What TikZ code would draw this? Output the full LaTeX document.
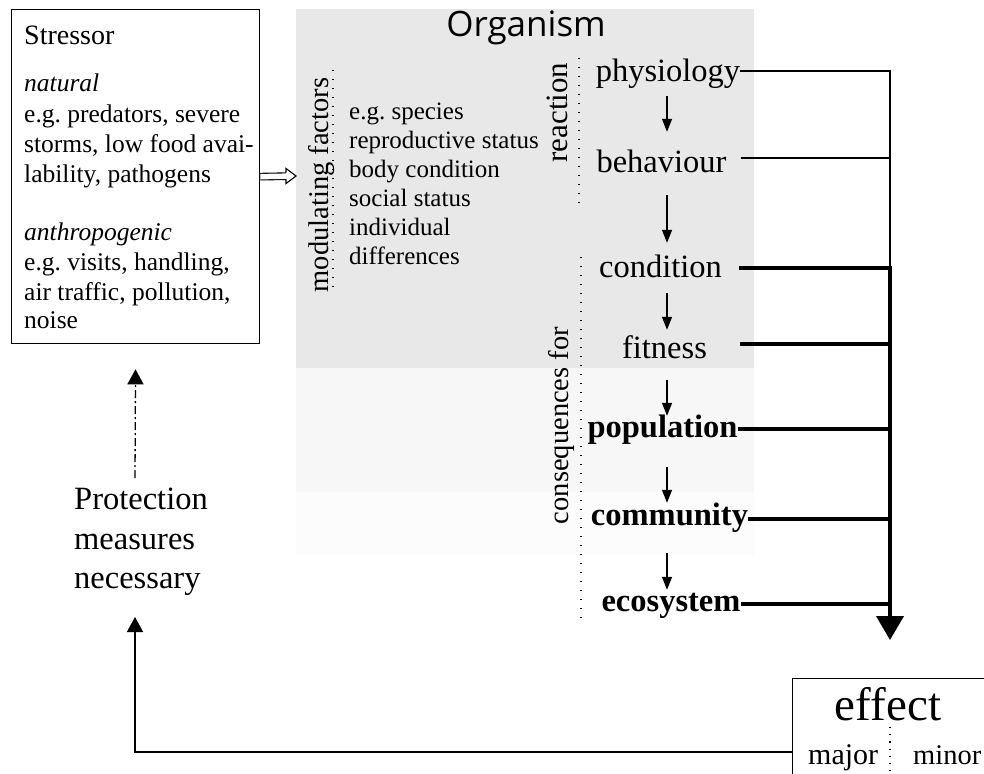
\documentclass[tikz,border=0pt]{standalone}
\usepackage{fontspec}
\setmainfont{Liberation Serif}
\newfontfamily\orgfont{Open Sans}
\usetikzlibrary{arrows.meta}
\definecolor{bandA}{HTML}{E8E8E8}
\definecolor{bandB}{HTML}{F7F7F7}
\definecolor{bandC}{HTML}{FCFCFC}
\frenchspacing
\begin{document}
\begin{tikzpicture}[x=1pt,y=-1pt,
  body/.style={inner sep=0pt, anchor=base west, font=\fontsize{25.5}{30}\selectfont},
  modtxt/.style={inner sep=0pt, anchor=base west, font=\fontsize{25}{29}\selectfont},
  coltxt/.style={inner sep=0pt, anchor=base, text height=23pt, text depth=7pt, font=\fontsize{32.5}{38}\selectfont},
  coltxtb/.style={coltxt, font=\fontsize{32.5}{38}\selectfont\bfseries},
  sidelabel/.style={inner sep=0pt, anchor=base, rotate=90},
  thinline/.style={line width=1.3pt},
  thickline/.style={line width=4pt},
  smallarr/.style={line width=1.3pt, -{Triangle[length=13pt,width=10pt]}},
  dotline/.style={line width=1.4pt, dash pattern=on 1.4pt off 7.6pt},
  boxline/.style={draw, line width=1.3pt, inner sep=0pt}
]
\useasboundingbox (0,0) rectangle (984,773);
\fill[white] (0,0) rectangle (984,773);

% organism background bands
\fill[bandA] (296,9) rectangle (754,368);
\fill[bandB] (296,368) rectangle (754,492);
\fill[bandC] (296,492) rectangle (754,555);

% stressor box
\node[boxline, anchor=north west, minimum width=248pt, minimum height=334pt] (stressor) at (11,9) {};
\node[inner sep=0pt, anchor=base west, font=\fontsize{28}{32}\selectfont] (st0) at (24,45) {Stressor};
\node[body] (st1) at (24,92) {\itshape natural};
\node[body] (st2) at (24,122) {e.g. predators, severe};
\node[body] (st3) at (24,152) {storms, low food avai-};
\node[body] (st4) at (24,182) {lability, pathogens};
\node[body] (st5) at (24,240) {\itshape anthropogenic};
\node[body] (st6) at (24,270) {e.g. visits, handling,};
\node[body] (st7) at (24,300) {air traffic, pollution,};
\node[body] (st8) at (24,328) {noise};

% hollow double arrow into organism
\coordinate (orgin) at (296,176);
\draw[double, double distance=5.5pt, line width=1.1pt, shorten >=10pt] (stressor.east) -- (orgin);
\draw[line width=1.1pt, line join=miter] ([xshift=-10pt,yshift=-3.3pt]orgin) -- ([xshift=-10pt,yshift=-7.5pt]orgin)
  -- (orgin) -- ([xshift=-10pt,yshift=7.5pt]orgin) -- ([xshift=-10pt,yshift=3.3pt]orgin);

% Organism title
\node[inner sep=0pt, anchor=base, font=\orgfont\fontsize{35}{40}\selectfont] (org) at (526,37) {Organism};

% modulating factors
\node[sidelabel, font=\fontsize{28.5}{32}\selectfont] (modf) at (328,185) {modulating factors};
\draw[dotline] (333,70) -- (333,293);
\node[modtxt] (m1) at (349,119) {e.g. species};
\node[modtxt] (m2) at (349,148) {reproductive status};
\node[modtxt] (m3) at (349,177) {body condition};
\node[modtxt] (m4) at (349,206) {social status};
\node[modtxt] (m5) at (349,235) {individual};
\node[modtxt] (m6) at (349,264) {differences};

% reaction / consequences labels
\node[sidelabel, font=\fontsize{31}{35}\selectfont] (react) at (567,112.5) {reaction};
\node[sidelabel, font=\fontsize{28.5}{32}\selectfont] (conseq) at (568,425.5) {consequences for};
\draw[dotline] (579,58) -- (579,207);
\draw[dotline] (581,257) -- (581,623);

% column
\node[coltxt] (phys) at (668,82) {physiology};
\node[coltxt] (beh) at (661.5,172) {behaviour};
\node[coltxt] (cond) at (660.5,277) {condition};
\node[coltxt] (fit) at (664.5,358) {fitness};
\node[coltxtb] (pop) at (662.5,437) {population};
\node[coltxtb] (com) at (669.5,525) {community};
\node[coltxtb] (eco) at (671,611) {ecosystem};

\coordinate (ax) at (667,0);
\draw[smallarr, shorten <=7pt, shorten >=17pt] (phys.south -| ax) -- (beh.north -| ax);
\draw[smallarr, shorten <=16pt, shorten >=11pt] (beh.south -| ax) -- (cond.north -| ax);
\draw[smallarr, shorten <=9pt, shorten >=5pt] (cond.south -| ax) -- (fit.north -| ax);
\draw[smallarr, shorten <=15pt, shorten >=-2pt] (fit.south -| ax) -- (pop.north -| ax);
\draw[smallarr, shorten <=23pt, shorten >=-1pt] (pop.south -| ax) -- (com.north -| ax);
\draw[smallarr, shorten <=21pt, shorten >=-2pt] (com.south -| ax) -- (eco.north -| ax);

% bus
\coordinate (bus1) at (890,71);
\coordinate (bus2) at (890,158);
\coordinate (bus3) at (890,268);
\coordinate (bus4) at (890,344);
\coordinate (bus5) at (890,429);
\coordinate (bus6) at (890,519);
\coordinate (bus7) at (890,604);
\coordinate (bustip) at (890,640);

\draw[thinline] (phys.east |- bus1) -- (bus1) -- (bus3);
\draw[thinline] ([xshift=14pt]beh.east |- bus2) -- (bus2);
\draw[thickline] ([xshift=17pt]cond.east |- bus3) -- (bus3);
\draw[thickline] ([xshift=33pt]fit.east |- bus4) -- (bus4);
\draw[thickline] (pop.east |- bus5) -- (bus5);
\draw[thickline] (com.east |- bus6) -- (bus6);
\draw[thickline] (eco.east |- bus7) -- (bus7);
\draw[thickline, -{Triangle[length=24pt,width=27pt]}] ([yshift=2pt]bus3) -- (bustip);

% effect box
\node[boxline, anchor=north west, minimum width=215pt, minimum height=120pt] (effbox) at (792,678) {};
\node[inner sep=0pt, anchor=base, font=\fontsize{47}{52}\selectfont] (eff) at (888,720) {effect};
\node[inner sep=0pt, anchor=base west, font=\fontsize{30}{34}\selectfont] (major) at (808,764) {major};
\node[inner sep=0pt, anchor=base west, font=\fontsize{28.5}{34}\selectfont] (minor) at (913,764) {minor};
\draw[dotline, line width=1.2pt, dash pattern=on 1.2pt off 6pt] (890,727) -- (890,775);

% protection measures
\node[inner sep=0pt, anchor=base west, font=\fontsize{32.5}{39}\selectfont] (prot1) at (74,509) {Protection};
\node[inner sep=0pt, anchor=base west, font=\fontsize{32.5}{39}\selectfont] (prot2) at (74,549) {measures};
\node[inner sep=0pt, anchor=base west, font=\fontsize{32.5}{39}\selectfont] (prot3) at (74,588) {necessary};

\coordinate (pstart) at (135,478);
\draw[line width=1.3pt, dash pattern=on 8pt off 3pt on 2pt off 3pt, -{Triangle[length=15pt,width=16pt]}, shorten >=25pt] (pstart) -- (stressor.south);
\coordinate (pcorner) at (135,752);
\coordinate (ptip) at (135,617);
\draw[line width=1.3pt, -{Triangle[length=15pt,width=16pt]}] (effbox.west |- pcorner) -- (pcorner) -- (ptip);
\end{tikzpicture}
\end{document}
